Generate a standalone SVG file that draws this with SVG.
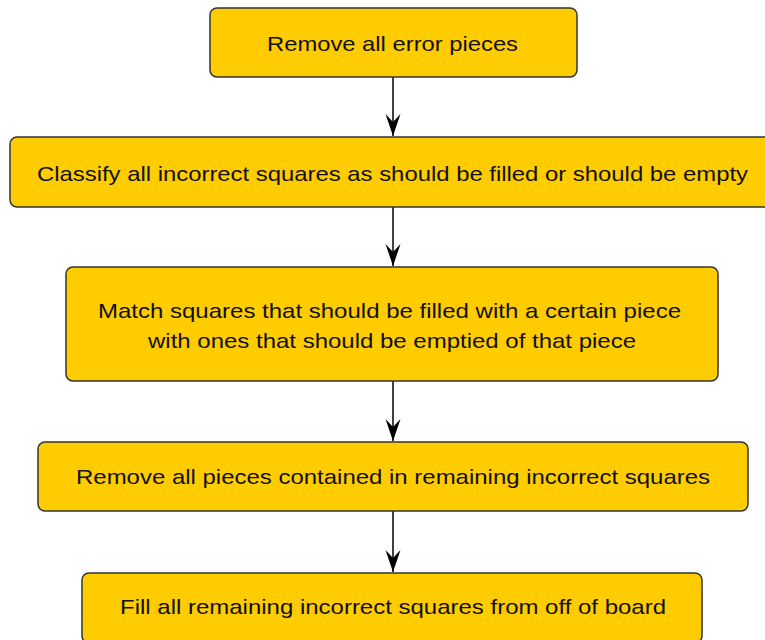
<svg xmlns="http://www.w3.org/2000/svg" width="765" height="640" viewBox="0 0 765 640">
<style>
.box{fill:#FFCC00;stroke:#333333;stroke-width:1.5}
.lbl{font-family:"Liberation Sans",Arial,sans-serif;font-size:21px;fill:#111111}
.conn{stroke:#000000;stroke-width:1.5;fill:none}
</style>
<defs>
<marker id="arr" markerUnits="userSpaceOnUse" markerWidth="17" markerHeight="24" viewBox="0 0 17 24" refX="8.5" refY="23" orient="0">
<path d="M1,1 L8.5,23 L16,1 L8.5,9 Z" fill="#000000"/>
</marker>
</defs>
<rect width="765" height="640" fill="#ffffff"/>
<g id="connectors">
<line class="conn" x1="393" y1="77" x2="393" y2="136" marker-end="url(#arr)"/>
<line class="conn" x1="393" y1="207" x2="393" y2="266" marker-end="url(#arr)"/>
<line class="conn" x1="393" y1="381" x2="393" y2="441" marker-end="url(#arr)"/>
<line class="conn" x1="393" y1="511" x2="393" y2="572" marker-end="url(#arr)"/>
</g>
<g id="n1">
<rect class="box" x="210" y="8" width="367" height="69" rx="7"/>
<text class="lbl" x="267" y="51" textLength="251" lengthAdjust="spacingAndGlyphs">Remove all error pieces</text>
</g>
<g id="n2">
<rect class="box" x="10" y="137" width="766" height="70" rx="7"/>
<text class="lbl" x="37" y="181" textLength="711" lengthAdjust="spacingAndGlyphs">Classify all incorrect squares as should be filled or should be empty</text>
</g>
<g id="n3">
<rect class="box" x="66" y="267" width="652" height="114" rx="7"/>
<text class="lbl" x="98" y="318" textLength="583" lengthAdjust="spacingAndGlyphs">Match squares that should be filled with a certain piece</text>
<text class="lbl" x="148" y="348" textLength="488" lengthAdjust="spacingAndGlyphs">with ones that should be emptied of that piece</text>
</g>
<g id="n4">
<rect class="box" x="38" y="442" width="710" height="69" rx="7"/>
<text class="lbl" x="76" y="484" textLength="634" lengthAdjust="spacingAndGlyphs">Remove all pieces contained in remaining incorrect squares</text>
</g>
<g id="n5">
<rect class="box" x="82" y="573" width="620" height="70" rx="7"/>
<text class="lbl" x="120" y="614" textLength="546" lengthAdjust="spacingAndGlyphs">Fill all remaining incorrect squares from off of board</text>
</g>
</svg>
